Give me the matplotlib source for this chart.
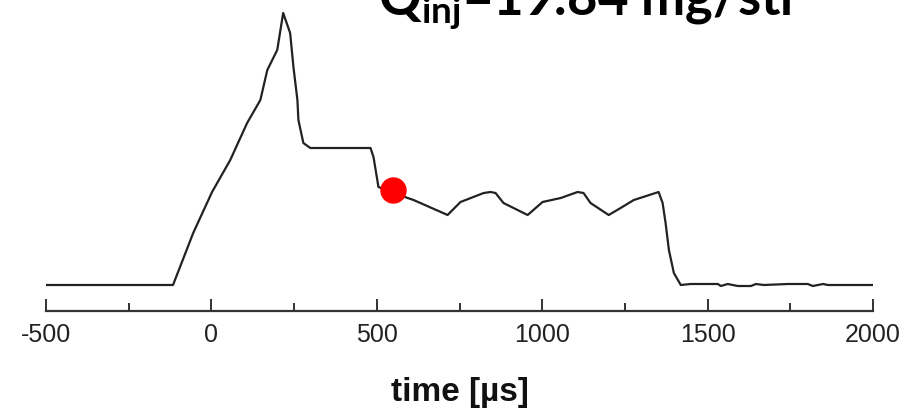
import matplotlib
matplotlib.use("Agg")
import matplotlib.pyplot as plt
from matplotlib.ticker import MultipleLocator

# injection-rate trace (arbitrary units, baseline = 0)
time_us = [-500, -122, -116, -55, 2, 57, 108, 148, 169, 199,
           217, 238, 248, 260, 263, 278, 299, 360, 481, 490,
           505, 550, 611, 714, 753, 823, 844, 859, 883, 956,
           1001, 1056, 1107, 1125, 1146, 1201, 1237, 1277, 1352, 1364,
           1373, 1383, 1398, 1419, 1449, 1531, 1540, 1561, 1591, 1631,
           1646, 1670, 1743, 1803, 1818, 1849, 1864, 2000]
signal = [0, 0, 0, 52, 93, 125, 162, 185, 215, 235,
          272, 252, 218, 185, 165, 142, 137, 137, 137, 128,
          98, 92, 85, 70, 83, 92, 93, 92, 82, 70,
          83, 87, 93, 92, 82, 70, 77, 85, 93, 82,
          62, 35, 12, 0, 1, 1, -1, 1, -1, -1,
          1, 0, 1, 1, -1, 1, 0, 0]

marker_t = [550]
marker_v = [95]

title = r"$\mathbf{Q}_{\mathbf{inj}}$=19.84 mg/str"

plt.rcParams["mathtext.fontset"] = "custom"
plt.rcParams["mathtext.bf"] = "Lato:bold"
plt.rcParams["mathtext.rm"] = "Lato"
plt.rcParams["axes.unicode_minus"] = False

fig = plt.figure(figsize=(9.04, 4.12), dpi=100)
ax = fig.add_axes([46 / 904, 1 - 311 / 412, 827 / 904, 311 / 412])

ax.plot(time_us, signal, color="#222222", lw=1.6)
ax.plot(marker_t, marker_v, "o", color="red", ms=18, zorder=3)

ax.set_xlim(-500, 2000)
ax.set_ylim(-26, 285)
ax.xaxis.set_major_locator(MultipleLocator(500))
ax.xaxis.set_minor_locator(MultipleLocator(250))
ax.set_yticks([])
for s in ("left", "right", "top"):
    ax.spines[s].set_visible(False)
ax.spines["bottom"].set_linewidth(1.6)
ax.spines["bottom"].set_color("#333333")
ax.tick_params(axis="x", which="major", direction="in", length=8.6, width=1.4,
               color="#333333", pad=9, labelsize=18, labelcolor="#222222")
ax.tick_params(axis="x", which="minor", direction="in", length=5.8, width=1.4,
               color="#333333")
for lbl in ax.get_xticklabels():
    lbl.set_fontfamily("Liberation Sans")

ax.set_xlabel("time [µs]", fontsize=24, fontweight="bold", family="Liberation Sans",
              labelpad=21, color="#111111")

# title is partly clipped by the top edge, as in the source figure
fig.text(378 / 904, 1 - 14 / 412, title, fontsize=38, fontweight="bold",
         family="Lato", ha="left", va="baseline", color="black")

fig.savefig("out.png", dpi=100)
